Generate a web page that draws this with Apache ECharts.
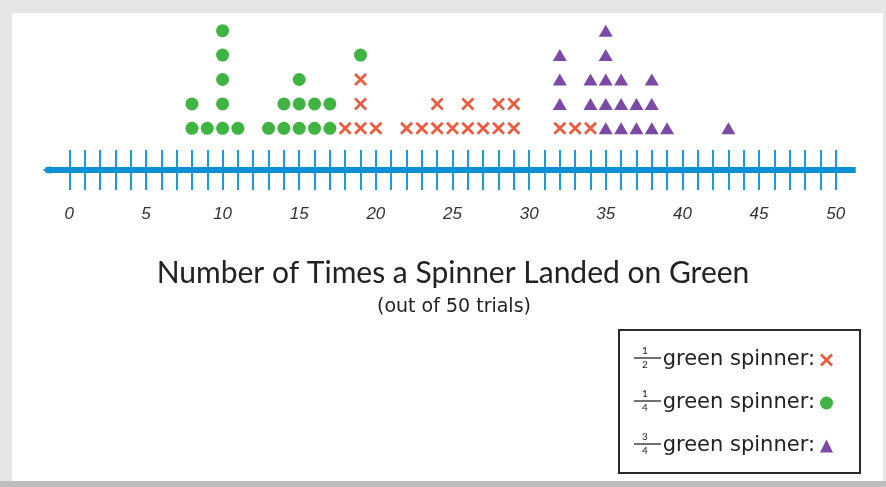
<!DOCTYPE html>
<html>
<head>
<meta charset="utf-8">
<script src="https://cdn.jsdelivr.net/npm/echarts@6/dist/echarts.min.js"></script>
<style>
  html, body { margin: 0; padding: 0; background: #e6e6e6; }
  #panel { position: absolute; left: 12px; top: 13px; width: 871px; height: 468px; background: #ffffff; }
  #bottom { position: absolute; left: 0; top: 481px; width: 886px; height: 6px; background: #bdbdbd; }
  #chart { position: absolute; left: 0; top: 0; width: 886px; height: 487px; }
</style>
</head>
<body>
<div id="panel"></div>
<div id="bottom"></div>
<div id="chart"></div>
<script>
// ---- data (each value = one trial-set outcome: times landed on green out of 50) ----
const halfSpinner = [18, 19, 19, 19, 20, 22, 23, 24, 24, 25, 26, 26, 27, 28, 28, 29, 29, 32, 33, 34];
const quarterSpinner = [8, 8, 9, 10, 10, 10, 10, 10, 11, 13, 14, 14, 15, 15, 15, 16, 16, 17, 17, 19];
const threeQuarterSpinner = [32, 32, 32, 34, 34, 35, 35, 35, 35, 35, 36, 36, 36, 37, 37, 38, 38, 38, 39, 43];
const tickLabels = [0, 5, 10, 15, 20, 25, 30, 35, 40, 45, 50];
const seriesNames = ['half', 'quarter', 'threeQuarter'];
const fractions = [['1', '2'], ['1', '4'], ['3', '4']];
const axisMin = 0, axisMax = 50;
const titleText = 'Number of Times a Spinner Landed on Green';
const subtitleText = '(out of 50 trials)';
const legendText = 'green spinner:';

// stack shared across series: X first, then dots, then triangles
const stackCount = {};
function stackUp(list) {
  return list.map(v => {
    stackCount[v] = (stackCount[v] || 0) + 1;
    return [v, stackCount[v]];
  });
}
const halfData = stackUp(halfSpinner);
const quarterData = stackUp(quarterSpinner);
const threeData = stackUp(threeQuarterSpinner);

const xPath = 'path://M1.5,0 L5,3.5 L8.5,0 L10,1.5 L6.5,5 L10,8.5 L8.5,10 L5,6.5 L1.5,10 L0,8.5 L3.5,5 L0,1.5 Z';
const lineBlue = '#0b8fd6';
const tickBlue = '#1a9be0';

const chart = echarts.init(document.getElementById('chart'), null, { renderer: 'canvas' });
const font = 'Lato, "Noto Sans", sans-serif';
const wideFont = '"DejaVu Sans", sans-serif';

// legend fraction graphics (decoration next to legend rows)
const legendRowY = [358, 401, 444];
const fracGraphics = [];
fractions.forEach((f, i) => {
  const y = legendRowY[i];
  fracGraphics.push(
    { type: 'text', x: 645, y: y - 7, style: { text: f[0], fontSize: 10, fontFamily: font, fill: '#222', align: 'center', verticalAlign: 'middle' } },
    { type: 'line', shape: { x1: 634, y1: y, x2: 661, y2: y }, style: { stroke: '#222', lineWidth: 1.3 } },
    { type: 'text', x: 645, y: y + 7, style: { text: f[1], fontSize: 10, fontFamily: font, fill: '#222', align: 'center', verticalAlign: 'middle' } }
  );
});

chart.setOption({
  backgroundColor: 'transparent',
  animation: false,
  title: [
    {
      text: titleText,
      left: 448, textAlign: 'center', top: 253,
      textStyle: { fontFamily: font, fontSize: 30, fontWeight: 'normal', color: '#222' }
    },
    {
      text: subtitleText,
      left: 449, textAlign: 'center', top: 293,
      textStyle: { fontFamily: wideFont, fontSize: 19, fontWeight: 'normal', color: '#222' }
    }
  ],
  legend: {
    orient: 'vertical',
    right: 53,
    top: 349,
    padding: 0,
    align: 'right',
    itemWidth: 13,
    itemHeight: 13,
    itemGap: 21,
    data: seriesNames,
    formatter: () => legendText,
    textStyle: { fontFamily: wideFont, fontSize: 21, lineHeight: 22, color: '#222' }
  },
  grid: [
    { left: 69.3, right: 50.3, top: 6.3, height: 146.4 },
    { left: 69.3, right: 50.3, top: 150, height: 40 },
    { left: 45.5, right: 30.3, top: 150, height: 40 }
  ],
  xAxis: [
    { gridIndex: 0, type: 'value', min: axisMin, max: axisMax, show: false },
    {
      gridIndex: 1, type: 'value', min: axisMin, max: axisMax, interval: 1,
      axisLine: { show: false }, axisTick: { show: false },
      splitLine: { show: true, lineStyle: { color: tickBlue, width: 2 } },
      axisLabel: {
        margin: 16,
        fontFamily: '"Liberation Sans", sans-serif', fontStyle: 'italic', fontSize: 17, color: '#333',
        formatter: v => tickLabels.includes(v) ? String(v) : ''
      }
    },
    { gridIndex: 2, type: 'value', min: 0, max: 1, show: false }
  ],
  yAxis: [
    { gridIndex: 0, type: 'value', min: 0, max: 6, show: false },
    { gridIndex: 1, type: 'value', min: -1, max: 1, show: false },
    { gridIndex: 2, type: 'value', min: -1, max: 1, show: false }
  ],
  series: [
    {
      type: 'line', xAxisIndex: 2, yAxisIndex: 2, silent: true,
      data: [
        { value: [0, 0], symbol: 'triangle', symbolRotate: 90, symbolSize: [8, 8], symbolOffset: [1, 0] },
        { value: [1, 0], symbol: 'none' }
      ],
      showSymbol: true,
      itemStyle: { color: lineBlue },
      lineStyle: { color: lineBlue, width: 6 },
      z: 3
    },
    {
      name: 'half', type: 'scatter', xAxisIndex: 0, yAxisIndex: 0,
      symbol: xPath, symbolSize: 13, data: halfData,
      itemStyle: { color: '#ef5b3f', opacity: 1 }
    },
    {
      name: 'quarter', type: 'scatter', xAxisIndex: 0, yAxisIndex: 0,
      symbol: 'circle', symbolSize: 13, data: quarterData,
      itemStyle: { color: '#3fb443', opacity: 1 }
    },
    {
      name: 'threeQuarter', type: 'scatter', xAxisIndex: 0, yAxisIndex: 0,
      symbol: 'triangle', symbolSize: [14, 12], data: threeData,
      itemStyle: { color: '#7a4aa6', opacity: 1 }
    }
  ],
  graphic: [
    { type: 'rect', shape: { x: 619, y: 330, width: 241, height: 143 }, style: { fill: 'none', stroke: '#2a2a2a', lineWidth: 2 } }
  ].concat(fracGraphics)
});
</script>
</body>
</html>
